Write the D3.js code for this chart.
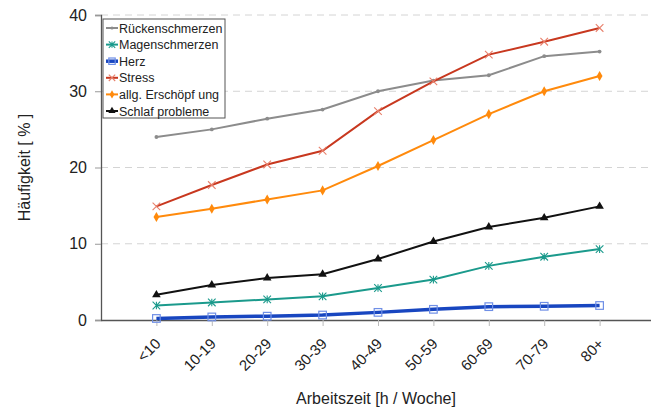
<!DOCTYPE html>
<html>
<head>
<meta charset="utf-8">
<script src="https://cdn.jsdelivr.net/npm/d3@7"></script>
<style>
  body { margin: 0; background: #fff; }
  text { font-family: "Liberation Sans", Arial, sans-serif; }
</style>
</head>
<body>
<div id="chart"></div>
<script>
const categories = ["<10", "10-19", "20-29", "30-39", "40-49", "50-59", "60-69", "70-79", "80+"];
const yTicks = [0, 10, 20, 30, 40];

const rueckenschmerzen = [24.0, 25.0, 26.4, 27.6, 30.0, 31.4, 32.1, 34.6, 35.2];
const magenschmerzen = [1.9, 2.3, 2.7, 3.1, 4.2, 5.3, 7.1, 8.3, 9.3];
const herz = [0.2, 0.4, 0.5, 0.65, 1.0, 1.4, 1.75, 1.8, 1.9];
const stress = [14.9, 17.7, 20.4, 22.2, 27.4, 31.3, 34.8, 36.5, 38.3];
const erschoepfung = [13.5, 14.6, 15.8, 17.0, 20.2, 23.6, 27.0, 30.0, 32.0];
const schlafprobleme = [3.3, 4.6, 5.5, 6.0, 8.0, 10.3, 12.2, 13.4, 14.9];

const seriesNames = ["Rückenschmerzen", "Magenschmerzen", "Herz", "Stress", "allg. Erschöpf ung", "Schlaf probleme"];
const seriesValues = [rueckenschmerzen, magenschmerzen, herz, stress, erschoepfung, schlafprobleme];

const styles = [
    { line: "#8c8c8c", marker: "#8c8c8c", width: 2, shape: "dot" },
    { line: "#1b9a8c", marker: "#1b9a8c", width: 2, shape: "star" },
    { line: "#1846c0", marker: "#6f8fe6", width: 3.5, shape: "square" },
    { line: "#c8381f", marker: "#e8806c", width: 2, shape: "cross" },
    { line: "#ff8a0c", marker: "#ff8a0c", width: 2, shape: "diamond" },
    { line: "#111111", marker: "#111111", width: 2, shape: "triangle" }
];

const width = 651, height = 414;
const margin = { left: 101, right: -4, top: 15, bottom: 94 };

const svg = d3.select("#chart").append("svg")
    .attr("width", width)
    .attr("height", height);

const x = d3.scalePoint()
    .domain(categories)
    .range([margin.left, width - margin.right])
    .padding(1);

const y = d3.scaleLinear()
    .domain([0, 40])
    .range([height - margin.bottom, margin.top]);

// grid
svg.append("g")
    .selectAll("line")
    .data(yTicks.filter(d => d > 0))
    .enter().append("line")
    .attr("x1", margin.left)
    .attr("x2", width)
    .attr("y1", d => y(d))
    .attr("y2", d => y(d))
    .attr("stroke", "#d4d4d4")
    .attr("stroke-width", 1)
    .attr("stroke-dasharray", "7,5");

// y axis
const yAxis = svg.append("g")
    .attr("transform", `translate(${margin.left},0)`)
    .call(d3.axisLeft(y).tickValues(yTicks).tickSize(6).tickPadding(8).tickFormat(d3.format("d")));
yAxis.select(".domain").attr("stroke", "#555").attr("stroke-width", 1.3);
yAxis.selectAll(".tick line").attr("stroke", "#999");
yAxis.selectAll("text").style("font-size", "16px").attr("fill", "#222");

// x axis
const xAxis = svg.append("g")
    .attr("transform", `translate(0,${y(0)})`)
    .call(d3.axisBottom(x).tickSize(6).tickSizeOuter(0));
xAxis.select(".domain").attr("stroke", "#555").attr("stroke-width", 1.3);
xAxis.selectAll(".tick line").attr("stroke", "#bbb");
xAxis.selectAll("text")
    .style("font-size", "15px")
    .attr("fill", "#222")
    .attr("text-anchor", "end")
    .attr("y", 0)
    .attr("dy", "0.35em")
    .attr("transform", "translate(1,21) rotate(-45)");

// axis titles
svg.append("text")
    .attr("transform", `translate(30,${(y(0) + y(40)) / 2}) rotate(-90)`)
    .attr("text-anchor", "middle")
    .style("font-size", "16px")
    .attr("fill", "#222")
    .text("Häufigkeit [ % ]");

svg.append("text")
    .attr("x", 376)
    .attr("y", 404)
    .attr("text-anchor", "middle")
    .style("font-size", "16px")
    .attr("fill", "#222")
    .text("Arbeitszeit [h / Woche]");

function drawMarker(g, shape, color, cx, cy, s) {
    if (shape === "dot") {
        g.append("circle").attr("cx", cx).attr("cy", cy).attr("r", s * 0.5).attr("fill", color);
    } else if (shape === "square") {
        g.append("rect").attr("x", cx - s).attr("y", cy - s).attr("width", 2 * s).attr("height", 2 * s)
            .attr("fill", "none").attr("stroke", color).attr("stroke-width", 1.2);
    } else if (shape === "cross") {
        g.append("path").attr("d", `M${cx - s},${cy - s}L${cx + s},${cy + s}M${cx - s},${cy + s}L${cx + s},${cy - s}`)
            .attr("stroke", color).attr("stroke-width", 1.1);
    } else if (shape === "star") {
        g.append("path").attr("d", `M${cx - s},${cy - s}L${cx + s},${cy + s}M${cx - s},${cy + s}L${cx + s},${cy - s}M${cx},${cy - s}L${cx},${cy + s}`)
            .attr("stroke", color).attr("stroke-width", 1.1);
    } else if (shape === "diamond") {
        g.append("path").attr("d", d3.symbol(d3.symbolDiamond, s * s * 2)())
            .attr("transform", `translate(${cx},${cy})`).attr("fill", color);
    } else if (shape === "triangle") {
        g.append("path").attr("d", d3.symbol(d3.symbolTriangle, s * s * 2.2)())
            .attr("transform", `translate(${cx},${cy})`).attr("fill", color);
    }
}

const line = d3.line()
    .x((d, i) => x(categories[i]))
    .y(d => y(d));

seriesValues.forEach((vals, si) => {
    const st = styles[si];
    const g = svg.append("g");
    g.append("path")
        .datum(vals)
        .attr("fill", "none")
        .attr("stroke", st.line)
        .attr("stroke-width", st.width)
        .attr("d", line);
    vals.forEach((v, i) => drawMarker(g, st.shape, st.marker, x(categories[i]), y(v), 3.8));
});

// legend
const legend = svg.append("g").attr("transform", "translate(103,19)");
legend.append("rect")
    .attr("width", 122)
    .attr("height", 99)
    .attr("fill", "#fff")
    .attr("stroke", "#555")
    .attr("stroke-width", 1);

seriesNames.forEach((name, i) => {
    const st = styles[i];
    const row = legend.append("g").attr("transform", `translate(0,${9 + i * 16.6})`);
    row.append("line").attr("x1", 3).attr("x2", 15).attr("y1", 0).attr("y2", 0)
        .attr("stroke", st.line).attr("stroke-width", st.width);
    drawMarker(row, st.shape, st.marker, 9, 0, 3.2);
    row.append("text")
        .attr("x", 16)
        .attr("y", 4.5)
        .style("font-size", "12.5px")
        .attr("fill", "#222")
        .text(name);
});
</script>
</body>
</html>
